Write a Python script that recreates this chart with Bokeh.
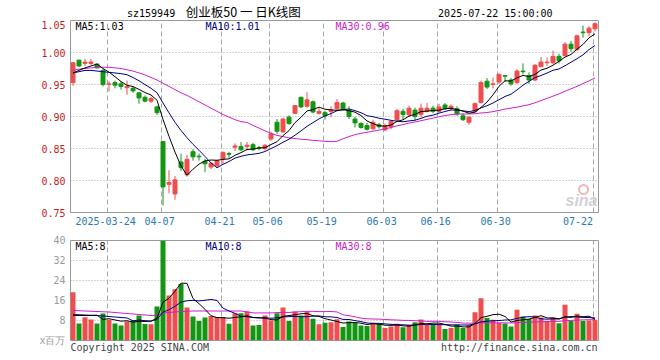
import pandas as pd
from bokeh.plotting import figure
from bokeh.layouts import column
from bokeh.models import ColumnDataSource, FixedTicker, Range1d, Label, PrintfTickFormatter
from bokeh.embed import file_html
from bokeh.resources import INLINE

# ---------------- data ----------------
holidays = ["2025-04-04", "2025-05-01", "2025-05-02", "2025-05-05", "2025-06-02"]
dates = [d.strftime("%Y-%m-%d") for d in pd.bdate_range("2025-03-14", "2025-07-22")
         if d.strftime("%Y-%m-%d") not in holidays]

open_ = [0.953, 0.988, 0.983, 0.983, 0.982, 0.972, 0.950, 0.953, 0.951, 0.945,
         0.944, 0.937, 0.930, 0.924, 0.915, 0.861, 0.794, 0.779, 0.829, 0.809,
         0.845, 0.838, 0.830, 0.821, 0.823, 0.834, 0.842, 0.852, 0.853, 0.853,
         0.856, 0.851, 0.850, 0.865, 0.891, 0.876, 0.899, 0.905, 0.930, 0.916,
         0.923, 0.905, 0.906, 0.908, 0.912, 0.921, 0.910, 0.896, 0.889, 0.886,
         0.881, 0.887, 0.879, 0.884, 0.895, 0.908, 0.903, 0.910, 0.903, 0.908,
         0.913, 0.908, 0.918, 0.913, 0.912, 0.901, 0.891, 0.908, 0.922, 0.955,
         0.950, 0.954, 0.964, 0.957, 0.953, 0.971, 0.964, 0.957, 0.978, 0.984,
         0.984, 0.994, 0.995, 1.013, 1.005, 1.032, 1.031, 1.037]
high = [0.985, 0.989, 0.990, 0.990, 0.983, 0.974, 0.955, 0.956, 0.955, 0.956,
        0.947, 0.938, 0.933, 0.931, 0.917, 0.862, 0.816, 0.807, 0.842, 0.840,
        0.849, 0.842, 0.834, 0.829, 0.832, 0.845, 0.845, 0.858, 0.860, 0.860,
        0.859, 0.854, 0.857, 0.876, 0.896, 0.898, 0.902, 0.918, 0.931, 0.938,
        0.925, 0.913, 0.909, 0.916, 0.927, 0.923, 0.916, 0.899, 0.891, 0.890,
        0.895, 0.890, 0.889, 0.894, 0.912, 0.912, 0.917, 0.914, 0.920, 0.921,
        0.917, 0.920, 0.921, 0.919, 0.916, 0.905, 0.900, 0.922, 0.956, 0.960,
        0.961, 0.967, 0.964, 0.960, 0.974, 0.983, 0.969, 0.982, 0.993, 0.992,
        1.003, 0.998, 1.016, 1.018, 1.028, 1.042, 1.041, 1.047]
low = [0.948, 0.977, 0.979, 0.980, 0.975, 0.947, 0.939, 0.944, 0.942, 0.934,
       0.937, 0.920, 0.922, 0.921, 0.902, 0.761, 0.780, 0.770, 0.815, 0.806,
       0.831, 0.831, 0.813, 0.818, 0.820, 0.826, 0.835, 0.846, 0.846, 0.847,
       0.846, 0.847, 0.847, 0.862, 0.873, 0.874, 0.887, 0.904, 0.913, 0.914,
       0.905, 0.903, 0.895, 0.899, 0.909, 0.909, 0.896, 0.883, 0.881, 0.878,
       0.878, 0.881, 0.877, 0.880, 0.893, 0.896, 0.899, 0.894, 0.899, 0.906,
       0.905, 0.906, 0.910, 0.910, 0.901, 0.893, 0.887, 0.905, 0.920, 0.943,
       0.944, 0.951, 0.954, 0.948, 0.951, 0.966, 0.951, 0.955, 0.977, 0.979,
       0.982, 0.983, 0.994, 1.001, 1.002, 1.023, 1.025, 1.033]
close = [0.984, 0.979, 0.985, 0.985, 0.976, 0.950, 0.951, 0.949, 0.947, 0.947,
         0.940, 0.929, 0.924, 0.928, 0.906, 0.790, 0.797, 0.801, 0.820, 0.833,
         0.837, 0.837, 0.826, 0.827, 0.831, 0.844, 0.841, 0.854, 0.848, 0.855,
         0.848, 0.850, 0.855, 0.873, 0.877, 0.896, 0.889, 0.917, 0.915, 0.926,
         0.907, 0.908, 0.901, 0.910, 0.922, 0.912, 0.900, 0.890, 0.883, 0.880,
         0.891, 0.884, 0.886, 0.892, 0.909, 0.903, 0.913, 0.900, 0.913, 0.913,
         0.908, 0.915, 0.912, 0.916, 0.904, 0.895, 0.899, 0.920, 0.953, 0.946,
         0.951, 0.966, 0.963, 0.951, 0.971, 0.970, 0.957, 0.980, 0.985, 0.985,
         0.994, 0.987, 1.013, 1.006, 1.026, 1.031, 1.038, 1.045]
volume = [19.3, 6.8, 9.3, 8.4, 6.8, 10.8, 8.3, 6.8, 6.0, 7.6,
          8.0, 10.0, 6.6, 6.5, 13.6, 40.0, 18.0, 20.5, 22.6, 13.2,
          9.6, 7.8, 9.2, 9.8, 9.4, 9.4, 6.7, 10.9, 10.9, 11.6,
          6.0, 6.2, 10.0, 8.0, 10.9, 13.2, 7.8, 11.6, 10.0, 11.4,
          8.7, 6.5, 7.1, 7.3, 8.5, 5.4, 7.6, 7.1, 6.0, 5.8,
          7.1, 6.7, 5.0, 5.6, 6.7, 5.3, 6.2, 7.3, 8.4, 6.2,
          6.7, 6.2, 4.6, 5.0, 6.4, 5.0, 6.2, 11.3, 16.9, 9.0,
          8.3, 7.1, 6.8, 5.6, 12.3, 9.6, 8.6, 10.0, 9.2, 7.8,
          9.3, 6.9, 14.3, 7.8, 10.7, 7.8, 8.0, 8.3]

# moving-average values at the left edge (their history lies before the window)
ma5_head = [0.968, 0.972, 0.976, 0.979]
ma10_head = [0.968, 0.970, 0.972, 0.972, 0.971, 0.970, 0.969, 0.968, 0.967]
ma30_head = [0.972, 0.974, 0.975, 0.976, 0.977, 0.977, 0.977, 0.976, 0.975, 0.973,
             0.971, 0.968, 0.965, 0.961, 0.957, 0.952, 0.947, 0.942, 0.937, 0.933,
             0.928, 0.923, 0.918, 0.913, 0.908, 0.903, 0.899, 0.895, 0.892]
vma5_head = [10.0, 10.0, 10.0, 10.0]
vma10_head = [10.4, 10.3, 10.2, 10.1, 10.0, 9.8, 9.6, 9.4, 9.2]
vma30_head = [12.0, 11.9, 11.8, 11.7, 11.6, 11.5, 11.4, 11.2, 11.0, 10.8,
              10.6, 10.4, 10.2, 10.0, 10.1, 11.0, 11.2, 11.4, 11.6, 11.7,
              11.8, 11.8, 11.8, 11.8, 11.8, 11.8, 11.8, 11.8, 11.8]

tick_dates = ["2025-03-24", "2025-04-07", "2025-04-21", "2025-05-06", "2025-05-19",
              "2025-06-03", "2025-06-16", "2025-06-30", "2025-07-22"]
tick_labels = ["2025-03-24", "04-07", "04-21", "05-06", "05-19",
               "06-03", "06-16", "06-30", "07-22"]
price_ticks = [0.75, 0.80, 0.85, 0.90, 0.95, 1.00, 1.05]
vol_ticks = [0, 8, 16, 24, 32, 40]
legend_price = ["MA5:1.03", "MA10:1.01", "MA30:0.96"]
legend_vol = ["MA5:8", "MA10:8", "MA30:8"]
code = "sz159949"
title = "创业板50 一 日K线图"
stamp = "2025-07-22 15:00:00"
footer_left = "Copyright 2025 SINA.COM"
footer_right = "http://finance.sina.com.cn"

# ---------------- helpers ----------------
def moving(vals, n, head):
    out = []
    for i in range(len(vals)):
        if i < n - 1:
            out.append(head[i])
        else:
            out.append(sum(vals[i - n + 1:i + 1]) / n)
    return out

UP, DOWN = "#F04E4E", "#139613"
C5, C10, C30 = "#000000", "#000080", "#CC22CC"
MONO = "DejaVu Sans Mono"
GRID = "#A8A8A8"

W = 654
LEFT = 70          # page x of frame left
FW = 528           # frame width
RIGHT = W - LEFT - FW
PXU = 6.0          # pixels per bar
CH = 6.02          # mono char width at 10px

n = len(close)
xs = list(range(n))
colors = [UP if c >= o else DOWN for o, c in zip(open_, close)]
src = ColumnDataSource(dict(
    x=xs, o=open_, h=high, l=low, c=close, v=volume, color=colors,
    top=[max(a, b) for a, b in zip(open_, close)],
    bot=[min(a, b) for a, b in zip(open_, close)],
    ma5=moving(close, 5, ma5_head), ma10=moving(close, 10, ma10_head),
    ma30=moving(close, 30, ma30_head),
    vma5=moving(volume, 5, vma5_head), vma10=moving(volume, 10, vma10_head),
    vma30=moving(volume, 30, vma30_head),
))
tick_idx = [dates.index(d) for d in tick_dates]

X0 = -5 / 12
xr = Range1d(X0, X0 + n)


def xpx(px):  # page-pixel x -> data x
    return round(X0 + (px - LEFT) / PXU, 4)


def style_common(p):
    p.outline_line_color = "#9A9A9A"
    p.background_fill_color = "white"
    p.border_fill_color = "white"
    ax = p.yaxis[0]
    ax.axis_line_color = None
    ax.major_tick_line_color = None
    ax.minor_tick_line_color = None
    ax.major_tick_out = 0
    ax.major_tick_in = 0
    ax.major_label_standoff = 5
    ax.major_label_text_font = MONO
    ax.major_label_text_font_size = "10px"
    bx = p.xaxis[0]
    bx.axis_line_color = None
    bx.major_tick_line_color = None
    bx.minor_tick_line_color = None
    bx.major_tick_out = 0
    bx.major_tick_in = 0
    bx.major_label_text_font = MONO
    bx.major_label_text_font_size = "10px"
    p.xgrid.ticker = FixedTicker(ticks=[t - 1 / 3 for t in tick_idx])
    p.xgrid.grid_line_color = GRID
    p.xgrid.grid_line_dash = "5 3"
    p.ygrid.grid_line_color = GRID
    p.ygrid.grid_line_dash = "1 2"


# ---------------- header strip ----------------
p0 = figure(width=W, height=20, x_range=Range1d(0, W), y_range=Range1d(20, 0),
            x_axis_location=None, y_axis_location=None, output_backend="svg",
            toolbar_location=None, min_border=0)
p0.outline_line_color = None
p0.xgrid.visible = False
p0.ygrid.visible = False
p0.add_layout(Label(x=LEFT, y=13.3, text=code, text_align="left",
                    text_baseline="middle", text_font=MONO, text_font_size="10px",
                    text_color="#000000"))
p0.add_layout(Label(x=214, y=11.0, text=title, text_align="center",
                    text_baseline="middle", text_font="Noto Sans CJK SC",
                    text_font_size="12.5px", text_color="#000000"))
p0.add_layout(Label(x=597, y=13.3, text=stamp, text_align="right",
                    text_baseline="middle", text_font=MONO, text_font_size="10px",
                    text_color="#000000"))

# ---------------- price panel ----------------
p1 = figure(width=W, height=212, x_range=xr, y_range=Range1d(0.75, 1.05),
            output_backend="svg", toolbar_location=None,
            min_border_left=LEFT, min_border_right=RIGHT, min_border_top=0,
            min_border_bottom=20)
style_common(p1)
p1.yaxis.ticker = FixedTicker(ticks=price_ticks)
p1.yaxis.formatter = PrintfTickFormatter(format="%.2f")
p1.yaxis.major_label_text_color = "#CC1A1A"
p1.ygrid.ticker = FixedTicker(ticks=price_ticks[1:-1])

# date labels: centred just left of each gridline, last one ends at its gridline
date_pos = [xpx(LEFT + (t + 5 / 12) * PXU - 2 - 1.4) for t in tick_idx[:-1]]
last_right = LEFT + (tick_idx[-1] + 5 / 12) * PXU - 2
date_pos.append(xpx(last_right - len(tick_labels[-1]) * CH / 2))
p1.xaxis.ticker = FixedTicker(ticks=date_pos)
p1.xaxis.major_label_overrides = {pp: lab for pp, lab in zip(date_pos, tick_labels)}
p1.xaxis.major_label_text_color = "#2A78B5"
p1.xaxis.major_label_standoff = 4

p1.segment(x0="x", y0="l", x1="x", y1="h", color="color", line_width=1, source=src)
p1.vbar(x="x", width=4 / PXU, top="top", bottom="bot", fill_color="color",
        line_color="color", line_width=1, source=src)
p1.line("x", "ma30", color=C30, line_width=1, source=src)
p1.line("x", "ma10", color=C10, line_width=1, source=src)
p1.line("x", "ma5", color=C5, line_width=1, source=src)

# watermark
p1.add_layout(Label(x=xpx(597), y=0.769, text="sina", text_align="right",
                    text_baseline="middle", text_font="Liberation Sans",
                    text_font_style="bold italic", text_font_size="16px",
                    text_color="#D2D2D2"))
p1.scatter(x=[xpx(583)], y=[0.786], marker="circle", size=9, fill_color=None,
           line_color="#F2B4B4", line_width=2)

for t, px, col in zip(legend_price, [75, 205, 335], [C5, C10, C30]):
    p1.add_layout(Label(x=xpx(px), y=1.05 - 6 / 640, text=t, text_align="left",
                        text_baseline="middle", text_font=MONO,
                        text_font_size="10px", text_color=col))

# ---------------- volume panel ----------------
p2 = figure(width=W, height=124, x_range=xr, y_range=Range1d(0, 40),
            output_backend="svg", toolbar_location=None,
            min_border_left=LEFT, min_border_right=RIGHT, min_border_top=8,
            min_border_bottom=16)
style_common(p2)
p2.yaxis.ticker = FixedTicker(ticks=vol_ticks)
p2.yaxis.major_label_overrides = {0: "x百万"}
p2.yaxis.major_label_text_color = "#9A9A9A"
p2.ygrid.ticker = FixedTicker(ticks=vol_ticks[1:-1])

foot_pos = [xpx(LEFT + len(footer_left) * CH / 2),
            xpx(597 - len(footer_right) * CH / 2)]
p2.xaxis.ticker = FixedTicker(ticks=foot_pos)
p2.xaxis.major_label_overrides = {foot_pos[0]: footer_left, foot_pos[1]: footer_right}
p2.xaxis.major_label_text_color = "#444444"
p2.xaxis.major_label_standoff = 1

p2.vbar(x="x", width=5 / PXU, top="v", bottom=0, fill_color="color",
        line_color=None, source=src)
p2.line("x", "vma30", color=C30, line_width=1, source=src)
p2.line("x", "vma10", color=C10, line_width=1, source=src)
p2.line("x", "vma5", color=C5, line_width=1, source=src)

for t, px, col in zip(legend_vol, [75, 205, 335], [C5, C10, C30]):
    p2.add_layout(Label(x=xpx(px), y=40 - 5.7 / 2.5, text=t, text_align="left",
                        text_baseline="middle", text_font=MONO,
                        text_font_size="10px", text_color=col))

layout = column(p0, p1, p2, spacing=0)
open("out.html", "w").write(file_html(layout, INLINE))
